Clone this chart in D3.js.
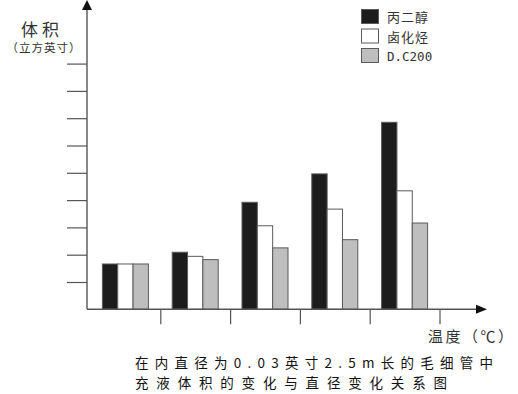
<!DOCTYPE html>
<html><head><meta charset="utf-8">
<script src="https://cdn.jsdelivr.net/npm/d3@7/dist/d3.min.js"></script>
<style>
html,body{margin:0;padding:0;background:#fff;}
svg{display:block;}
</style></head>
<body>
<svg id="c" width="518" height="394"></svg>
<script>
const categories = ["T1","T2","T3","T4","T5"];
const seriesNames = ["丙二醇","卤化烃","D.C200"];
const propyleneGlycol = [1.66, 2.09, 3.92, 4.96, 6.85];
const halocarbon = [1.66, 1.94, 3.06, 3.67, 4.34];
const dc200 = [1.66, 1.82, 2.25, 2.55, 3.16];
const yTicks = [1,2,3,4,5,6,7,8,9];
const seriesColors = ["#1c1c1c","#ffffff","#bebebe"];

const series = [propyleneGlycol, halocarbon, dc200];
const svg = d3.select("#c");
const cjk = "'Noto Sans CJK SC','Noto Sans',sans-serif";
const axisColor = "#555";

const x = d3.scaleBand().domain(categories).range([90.5, 439.5]).paddingInner(0).paddingOuter(0);
const xs = d3.scaleBand().domain(seriesNames).range([0, 46]);
const y = d3.scaleLinear().domain([0, 9]).range([309.3, 63.6]);

// bars
categories.forEach((c, i) => {
  const cx = x(c) + x.bandwidth() / 2 - 23;
  series.forEach((s, j) => {
    svg.append("rect")
      .attr("x", cx + xs(seriesNames[j]))
      .attr("y", y(s[i]))
      .attr("width", xs.bandwidth())
      .attr("height", y(0) - y(s[i]))
      .attr("fill", seriesColors[j])
      .attr("stroke", "#5a5a5a")
      .attr("stroke-width", 1);
  });
});

// y axis with ticks on left
const yAxis = d3.axisLeft(y).tickValues(yTicks).tickSize(20).tickFormat("");
const gy = svg.append("g").attr("transform", "translate(87,0)").call(yAxis);
gy.select(".domain").remove();
gy.selectAll("line").attr("stroke", axisColor).attr("stroke-width", 1.2);
svg.append("line").attr("x1", 87).attr("x2", 87).attr("y1", 6).attr("y2", y(0))
  .attr("stroke", axisColor).attr("stroke-width", 1.4);
svg.append("path").attr("d", "M87,0 L82,10 L92,10 Z").attr("fill", "#111");

// x axis with ticks at band boundaries
const boundaries = categories.map(c => x(c) + x.bandwidth());
const xAxis = d3.axisBottom(d3.scaleLinear().domain([0, 518]).range([0, 518]))
  .tickValues(boundaries).tickSize(15).tickFormat("");
const gx = svg.append("g").attr("transform", `translate(0,${y(0)})`).call(xAxis);
gx.select(".domain").remove();
gx.selectAll("line").attr("stroke", axisColor).attr("stroke-width", 1.2);
svg.append("line").attr("x1", 87).attr("x2", 480).attr("y1", y(0)).attr("y2", y(0))
  .attr("stroke", axisColor).attr("stroke-width", 1.4);
svg.append("path").attr("d", `M487,${y(0)} L476,${y(0)-4.5} L476,${y(0)+4.5} Z`).attr("fill", "#111");

// axis titles
svg.append("text").attr("x", 42).attr("y", 36).attr("text-anchor", "middle")
  .attr("font-family", cjk).attr("font-size", 17).attr("letter-spacing", 4)
  .attr("fill", "#333").text("体积");
svg.append("text").attr("x", 44).attr("y", 52).attr("text-anchor", "middle")
  .attr("font-family", cjk).attr("font-size", 11.5).attr("letter-spacing", 1)
  .attr("fill", "#333").text("（立方英寸）");
svg.append("text").attr("x", 428).attr("y", 342)
  .attr("font-family", cjk).attr("font-size", 15).attr("letter-spacing", 2.5)
  .attr("fill", "#333").text("温度（℃）");

// legend
const lg = svg.append("g");
seriesNames.forEach((n, j) => {
  const yy = 9 + j * 19.5;
  lg.append("rect").attr("x", 361.5).attr("y", yy + 0.5).attr("width", 17).attr("height", 14)
    .attr("fill", seriesColors[j]).attr("stroke", "#5a5a5a").attr("stroke-width", 1);
  lg.append("text").attr("x", 387).attr("y", yy + 13)
    .attr("font-family", j === 2 ? "'DejaVu Sans Mono',monospace" : cjk)
    .attr("font-size", j === 2 ? 12.5 : 13)
    .attr("letter-spacing", j === 2 ? 0 : 1)
    .attr("fill", "#333").text(n);
});

// caption
svg.append("text").attr("x", 135).attr("y", 368)
  .attr("font-family", cjk).attr("font-size", 13.5).attr("fill", "#111")
  .attr("textLength", 358).attr("lengthAdjust", "spacing")
  .text("在内直径为0.03英寸2.5m长的毛细管中");
svg.append("text").attr("x", 135).attr("y", 388)
  .attr("font-family", cjk).attr("font-size", 13.5).attr("fill", "#111")
  .attr("textLength", 312).attr("lengthAdjust", "spacing")
  .text("充液体积的变化与直径变化关系图");
</script>
</body></html>
